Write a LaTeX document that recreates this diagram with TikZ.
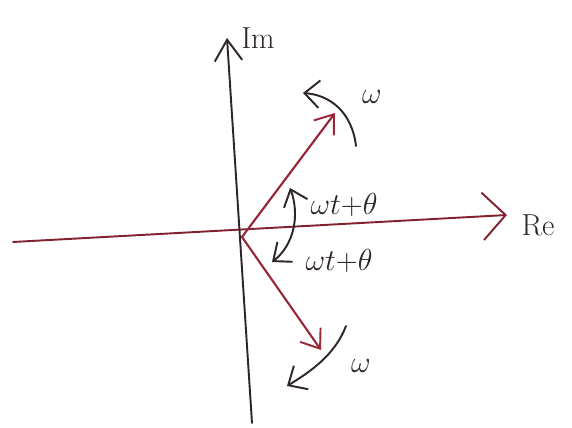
\documentclass[tikz,border=0pt]{standalone}
\usetikzlibrary{arrows.meta}
\definecolor{phasor}{HTML}{982838}
\definecolor{inkdark}{HTML}{2E2628}

\begin{document}
\begin{tikzpicture}[x=0.02cm,y=-0.02cm,line cap=round,
  realaxis/.style={line width=1.1pt,phasor!85!black,-{Straight Barb[length=0.46cm,width=0.95cm,line width=1.1pt]}},
  imagaxis/.style={line width=1.1pt,inkdark,-{Straight Barb[length=0.42cm,width=0.55cm,line width=1.1pt]}},
  vec/.style={line width=1.2pt,phasor,-{Straight Barb[length=0.34cm,width=0.5cm,line width=1.1pt]}},
  turn/.style={line width=1.1pt,inkdark,-{Straight Barb[length=0.3cm,width=0.55cm,line width=1.1pt]}},
  lbl/.style={inkdark,font=\LARGE}]
\useasboundingbox (0,0) rectangle (572,428);
% points
\coordinate (O) at (242,237);
\coordinate (reL) at (13,242);
\coordinate (reR) at (507,215);
\coordinate (imB) at (252,423);
\coordinate (imT) at (227,38);
\coordinate (P) at (335,113);
\coordinate (Q) at (321,350);
% axes
\draw[realaxis] (reL) -- (reR);
\draw[imagaxis] (imB) -- (imT);
\node[lbl] (re) at (538,225) {$\mathrm{Re}$};
\node[lbl] (im) at (258,38) {$\mathrm{Im}$};
% phasors
\draw[vec] (O) -- (P);
\draw[vec] (O) -- (Q);
% rotation
\coordinate (wa) at (356,146);
\coordinate (wb) at (303,93);
\draw[turn] (wa) .. controls (352,112) and (330,95) .. (wb);
\node[lbl] (wup) at (372,97) {$\omega$};
\coordinate (wc) at (346,326);
\coordinate (wd) at (287,386);
\draw[turn] (wc) .. controls (335,355) and (310,372) .. (wd);
\node[lbl] (wdn) at (361,366) {$\omega$};
% angles
\coordinate (aU) at (290,188);
\coordinate (aD) at (272,262);
\draw[turn,{Straight Barb[length=0.3cm,width=0.5cm,line width=1.1pt]}-{Straight Barb[length=0.3cm,width=0.5cm,line width=1.1pt]}]
  (aU) .. controls (300,215) and (294,245) .. (aD);
\node[lbl] (thup) at (344,205) {$\omega t{+}\theta$};
\node[lbl] (thdn) at (339,261) {$\omega t{+}\theta$};
\end{tikzpicture}
\end{document}
